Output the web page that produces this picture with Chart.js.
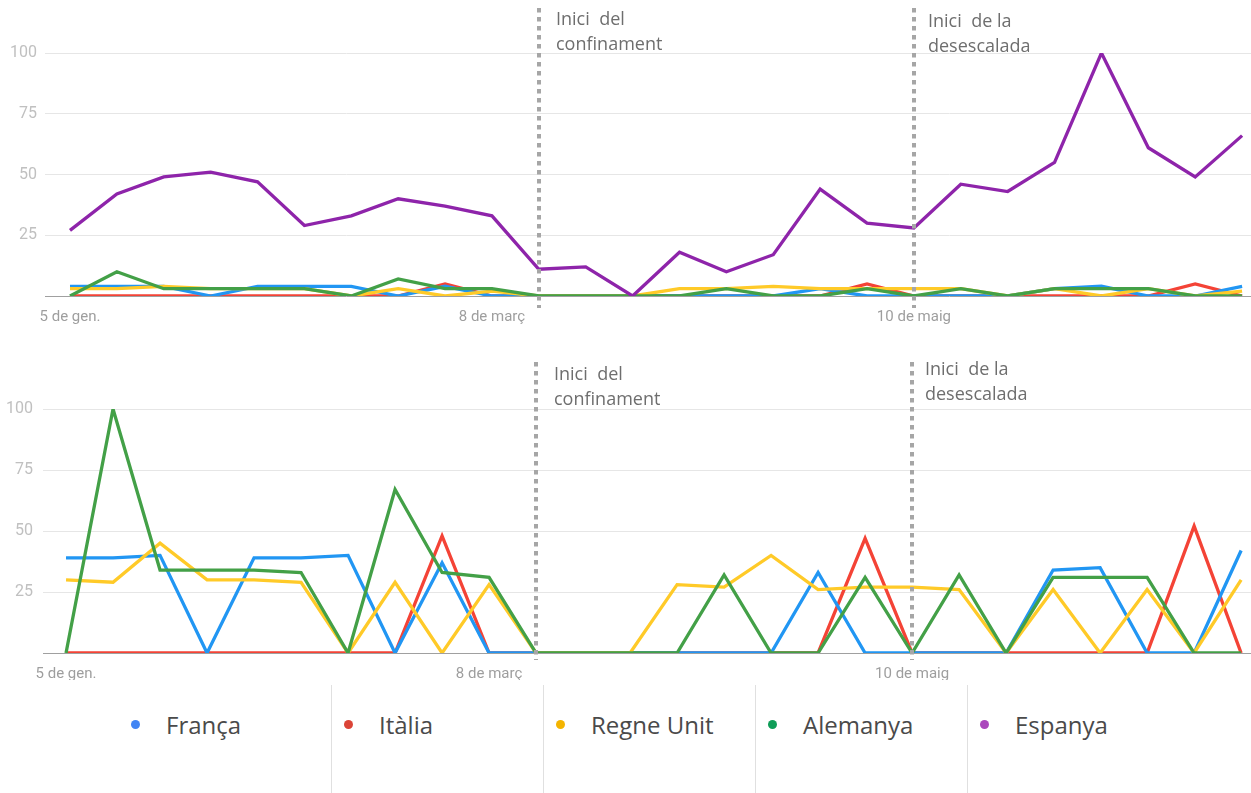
<!DOCTYPE html>
<html>
<head>
<meta charset="utf-8">
<script src="https://cdn.jsdelivr.net/npm/chart.js@4.4.1/dist/chart.umd.min.js"></script>
<style>
  body { margin:0; background:#fff; width:1251px; height:793px; position:relative; overflow:hidden; font-family:'Open Sans', sans-serif; }
  canvas { position:absolute; left:0; }
  #topChart { top:0; }
  #bottomChart { top:350px; }
  #legend { position:absolute; left:0; top:685px; width:1251px; height:108px; }
  .item { position:absolute; top:0; width:212px; height:108px; }
  .item.sep { border-left:1px solid #e0e0e0; }
  .dot { position:absolute; left:12px; top:35px; width:9px; height:9px; border-radius:50%; }
  .txt { position:absolute; left:47px; top:23px; font-size:24px; color:#4a4a4a; white-space:nowrap; }
</style>
</head>
<body>
<canvas id="topChart" width="1251" height="330"></canvas>
<canvas id="bottomChart" width="1251" height="330"></canvas>
<div id="legend"></div>
<script>
// setmanes (eix x) i etiquetes visibles
const setmanes = ['5 de gen.', '12 de gen.', '19 de gen.', '26 de gen.', '2 de febr.', '9 de febr.', '16 de febr.',
  '23 de febr.', '1 de març', '8 de març', '15 de març', '22 de març', '29 de març', '5 d’abr.', '12 d’abr.',
  '19 d’abr.', '26 d’abr.', '3 de maig', '10 de maig', '17 de maig', '24 de maig', '31 de maig', '7 de juny',
  '14 de juny', '21 de juny', '28 de juny'];
const tickIdx = [0, 9, 18];
const yTicks = [0, 25, 50, 75, 100];

const paisos = ['França', 'Itàlia', 'Regne Unit', 'Alemanya', 'Espanya'];
const colorsLinia = ['#2196f3', '#f44336', '#ffca28', '#43a047', '#8e24aa'];
const colorsLlegenda = ['#4285f4', '#db4437', '#f4b400', '#0f9d58', '#ab47bc'];
const ordreDibuix = [3, 4, 2, 1, 0];

// gràfic de dalt (amb Espanya)
const francaA   = [4, 4, 4, 0, 4, 4, 4, 0, 4, 0, 0, 0, 0, 0, 0, 0, 3, 0, 0, 0, 0, 3, 4, 0, 0, 4];
const italiaA   = [0, 0, 0, 0, 0, 0, 0, 0, 5, 0, 0, 0, 0, 0, 0, 0, 0, 5, 0, 0, 0, 0, 0, 0, 5, 0];
const regneA    = [3, 3, 4, 3, 3, 3, 0, 3, 0, 2, 0, 0, 0, 3, 3, 4, 3, 3, 3, 3, 0, 3, 0, 3, 0, 2];
const alemanyaA = [0, 10, 3, 3, 3, 3, 0, 7, 3, 3, 0, 0, 0, 0, 3, 0, 0, 3, 0, 3, 0, 3, 3, 3, 0, 0];
const espanyaA  = [27, 42, 49, 51, 47, 29, 33, 40, 37, 33, 11, 12, 0, 18, 10, 17, 44, 30, 28, 46, 43, 55, 100, 61, 49, 66];

// gràfic de baix (sense Espanya)
const francaB   = [39, 39, 40, 0, 39, 39, 40, 0, 37, 0, 0, 0, 0, 0, 0, 0, 33, 0, 0, 0, 0, 34, 35, 0, 0, 42];
const italiaB   = [0, 0, 0, 0, 0, 0, 0, 0, 48, 0, 0, 0, 0, 0, 0, 0, 0, 47, 0, 0, 0, 0, 0, 0, 52, 0];
const regneB    = [30, 29, 45, 30, 30, 29, 0, 29, 0, 28, 0, 0, 0, 28, 27, 40, 26, 27, 27, 26, 0, 26, 0, 26, 0, 30];
const alemanyaB = [0, 100, 34, 34, 34, 33, 0, 67, 33, 31, 0, 0, 0, 0, 32, 0, 0, 31, 0, 32, 0, 31, 31, 31, 0, 0];

// fets marcats amb línia puntejada
const fets = [10, 18];
const fetsText = [['Inici  del', 'confinament'], ['Inici  de la', 'desescalada']];

const fetsPlugin = {
  id: 'fets',
  afterDatasetsDraw(chart, args, o) {
    const { ctx, chartArea, scales } = chart;
    fets.forEach((idx, k) => {
      const x = Math.round(scales.x.getPixelForValue(idx));
      ctx.save();
      ctx.strokeStyle = '#a6a6a6';
      ctx.lineWidth = 4;
      ctx.setLineDash([4.5, 4.5]);
      ctx.beginPath();
      ctx.moveTo(x, chartArea.top - o.top);
      ctx.lineTo(x, chartArea.bottom + o.bottom);
      ctx.stroke();
      ctx.setLineDash([]);
      ctx.fillStyle = '#6e6e6e';
      ctx.font = '18px "Open Sans"';
      ctx.textBaseline = 'alphabetic';
      fetsText[k].forEach((t, l) => ctx.fillText(t, x + o.dx[k], chartArea.top + o.dy[k] + l * 25));
      ctx.restore();
    });
  }
};

function datasets(series) {
  return series.map((vals, i) => vals && {
    label: paisos[i],
    data: vals.map((v, j) => ({ x: j, y: v })),
    borderColor: colorsLinia[i],
    backgroundColor: colorsLinia[i],
    borderWidth: 3.3,
    pointRadius: 0,
    tension: 0,
    fill: false,
    order: ordreDibuix[i]
  }).filter(Boolean);
}

function grafic(id, series, c) {
  return new Chart(document.getElementById(id), {
    type: 'line',
    data: { datasets: datasets(series) },
    plugins: [fetsPlugin],
    options: {
      responsive: false,
      animation: false,
      layout: { padding: { top: c.padTop, left: 0, right: 0, bottom: 0 } },
      plugins: {
        legend: { display: false },
        tooltip: { enabled: false },
        fets: c.fets
      },
      scales: {
        x: {
          type: 'linear',
          min: c.xMin,
          max: c.xMax,
          grid: { display: false },
          border: { display: false },
          afterFit: s => { s.height = c.xH; },
          afterBuildTicks: s => { s.ticks = tickIdx.map(v => ({ value: v })); },
          ticks: {
            autoSkip: false, maxRotation: 0, padding: 4,
            color: '#9e9e9e', font: { family: 'Roboto', size: 15 },
            callback: v => setmanes[v]
          }
        },
        y: {
          min: 0,
          max: 100,
          afterFit: s => { s.width = c.yW; },
          afterBuildTicks: s => { s.ticks = yTicks.map(v => ({ value: v })); },
          grid: { drawTicks: false, color: ctx => ctx.tick.value === 0 ? '#a0a0a0' : '#e6e6e6' },
          border: { display: false },
          ticks: {
            padding: c.yPad, color: '#c0c0c0', font: { family: 'Roboto', size: 16 },
            callback: v => v === 0 ? '' : v
          }
        }
      }
    }
  });
}

grafic('topChart', [francaA, italiaA, regneA, alemanyaA, espanyaA], {
  padTop: 53, xH: 34, yW: 45, yPad: 8, xMin: -0.533, xMax: 25.19,
  fets: { top: 45, bottom: 12, dx: [17, 14], dy: [-28, -26] }
});
grafic('bottomChart', [francaB, italiaB, regneB, alemanyaB, null], {
  padTop: 59, xH: 27, yW: 43, yPad: 10, xMin: -0.49, xMax: 25.21,
  fets: { top: 47, bottom: 7, dx: [18, 13], dy: [-29, -34] }
});

// llegenda
const legend = document.getElementById('legend');
const esquerres = [119, 331, 543, 755, 967];
paisos.forEach((p, i) => {
  const el = document.createElement('div');
  el.className = 'item' + (i > 0 ? ' sep' : '');
  el.style.left = esquerres[i] + 'px';
  el.innerHTML = `<div class="dot" style="background:${colorsLlegenda[i]}"></div><div class="txt">${p}</div>`;
  legend.appendChild(el);
});
</script>
</body>
</html>
